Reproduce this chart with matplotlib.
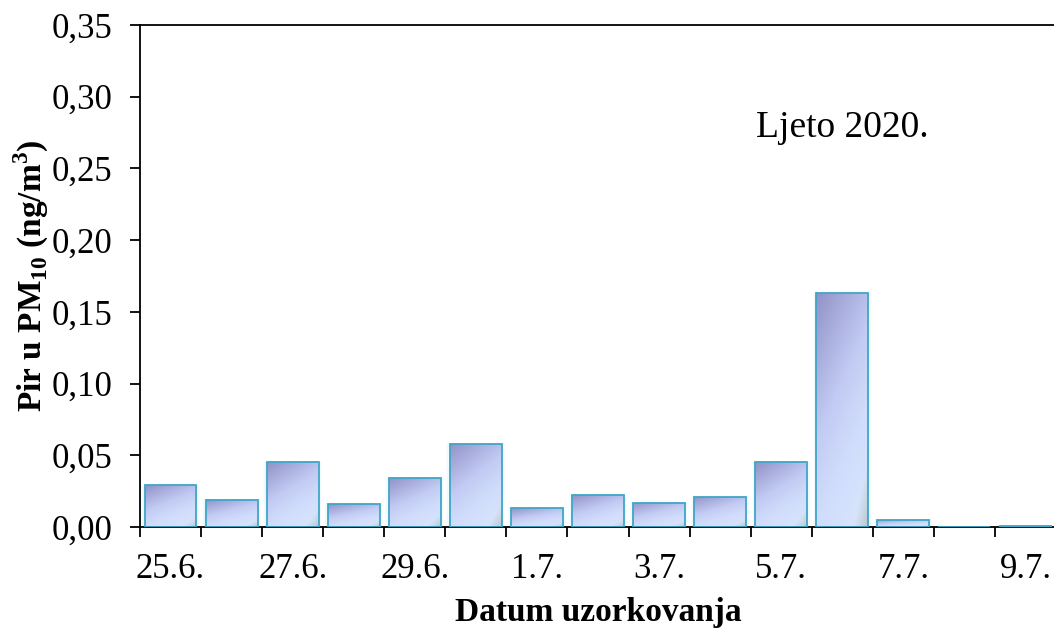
import numpy as np
import matplotlib
matplotlib.use("Agg")
import matplotlib.pyplot as plt
import matplotlib.ticker as mticker
from matplotlib.colors import LinearSegmentedColormap
from matplotlib.patches import Rectangle

plt.rcParams["font.family"] = ["Liberation Serif", "DejaVu Serif"]
plt.rcParams["mathtext.fontset"] = "custom"
plt.rcParams["mathtext.rm"] = "Liberation Serif"
plt.rcParams["mathtext.bf"] = "Liberation Serif:bold"

# ── Data ──────────────────────────────────────
dates = ["25.6.", "26.6.", "27.6.", "28.6.", "29.6.", "30.6.", "1.7.", "2.7.",
         "3.7.", "4.7.", "5.7.", "6.7.", "7.7.", "8.7.", "9.7."]
pir = [0.029, 0.019, 0.045, 0.016, 0.034, 0.058, 0.013, 0.022,
       0.017, 0.021, 0.045, 0.163, 0.005, 0.0, 0.001]
yticks = [0.00, 0.05, 0.10, 0.15, 0.20, 0.25, 0.30, 0.35]

# ── Figure ────────────────────────────────────
W, H = 1054, 628
fig = plt.figure(figsize=(W / 100, H / 100), dpi=100)
ax = fig.add_axes([140 / W, 1 - 527 / H, 916 / W, 502 / H])

x = np.arange(len(dates))
bar_w = 0.85
bars = ax.bar(x, pir, width=bar_w, facecolor="none", edgecolor="#3fa6c6",
              linewidth=1.3, zorder=3)

# gradient fill clipped to each bar
grad_cmap = LinearSegmentedColormap.from_list(
    "bar", [(0.0, "#9292c8"), (0.45, "#c2cbf3"), (0.7, "#d0dcfb"), (1.0, "#d8e5fc")])
u = np.linspace(0, 1, 60)[None, :]
v = np.linspace(0, 1, 120)[:, None]
t = np.clip(0.72 * v + 0.35 * u, 0, 1)
rgb = grad_cmap(t)[..., :3]
corner = np.clip((u + v - 1.72) / 0.28, 0, 1)[..., None]
rgb = rgb * (1 - 0.55 * corner) + np.array([0.62, 0.70, 0.64]) * 0.55 * corner

for b in bars:
    h = b.get_height()
    if h <= 0:
        continue
    x0 = b.get_x()
    # soft halo around the bar
    for k, a in zip((0.06, 0.04, 0.02), (0.08, 0.12, 0.18)):
        ax.add_patch(Rectangle((x0 - k, 0), bar_w + 2 * k, h + k * 0.01,
                               facecolor="#bfeaf8", edgecolor="none",
                               alpha=a, zorder=1))
    im = ax.imshow(rgb, extent=(x0, x0 + bar_w, 0, h), origin="upper",
                   aspect="auto", interpolation="bilinear", zorder=2)
    im.set_clip_path(b)

ax.set_xlim(-0.5, len(dates) - 0.5)
ax.set_ylim(0, 0.35)

# ── Axes styling ──────────────────────────────
ax.spines["right"].set_visible(False)
for s in ("left", "bottom", "top"):
    ax.spines[s].set_linewidth(1.3)

ax.set_xticks(x[::2])
ax.set_xticklabels(dates[::2])
ax.set_xticks(np.arange(-0.5, len(dates), 1.0), minor=True)
ax.tick_params(axis="x", which="major", length=0, pad=19, labelsize=25)
ax.tick_params(axis="x", which="minor", length=7, width=1.3, direction="out")

ax.set_yticks(yticks)
ax.yaxis.set_major_formatter(mticker.FuncFormatter(lambda val, _: f"{val:.2f}".replace(".", ",")))
ax.tick_params(axis="y", length=7, width=1.3, direction="out", pad=13, labelsize=25)

ax.set_xlabel("Datum uzorkovanja", fontsize=24, fontweight="bold", labelpad=8)
ax.set_ylabel(r"Pir u PM$_{\mathbf{10}}$ (ng/m$^{\mathbf{3}}$)", fontsize=24,
              fontweight="bold", labelpad=0)

ax.text(0.672, 0.795, "Ljeto 2020.", transform=ax.transAxes, fontsize=27,
        ha="left", va="center")

fig.savefig("out.png", dpi=100)
